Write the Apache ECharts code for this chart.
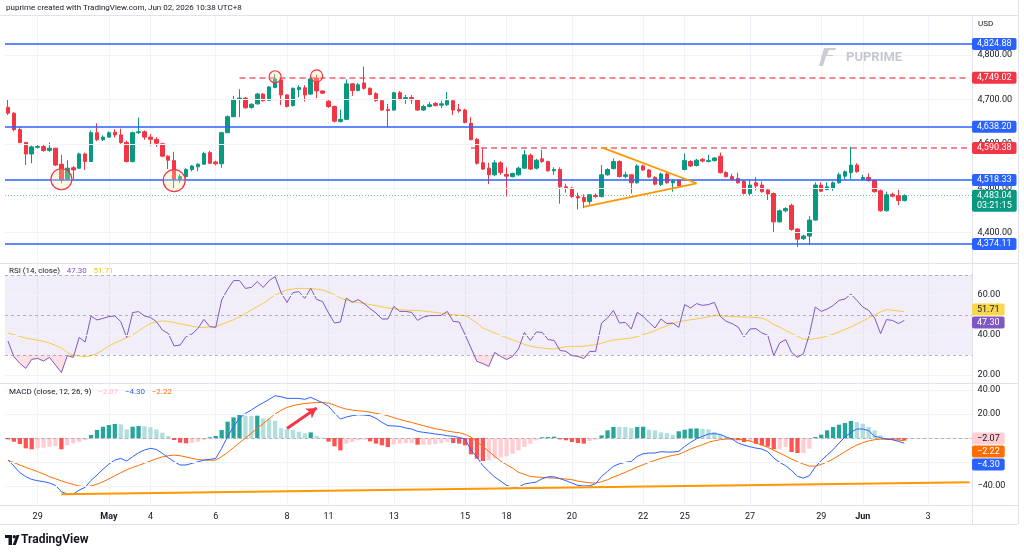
<!DOCTYPE html>
<html><head><meta charset="utf-8">
<script src="https://cdn.jsdelivr.net/npm/echarts@6/dist/echarts.min.js"></script>
<style>html,body{margin:0;padding:0;background:#fff;}#c{width:1024px;height:558px;}</style>
</head><body><div id="c"></div>
<script>
// ---- time axis: one entry per trading day, with number of 4H bars ----
const dayLabels = ['28','29','30','May','4','5','6','7','8','11','12','13','14','15','18','19','20','21','22','25','26','27','28','29','Jun','2','3'];
const dayBars   = [5,6,6,7,5,6,6,6,7,5,6,6,6,7,5,6,6,6,7,5,6,6,6,7,5,6,8];
const shownDays = ['29','May','4','6','8','11','13','15','18','20','22','25','27','Jun','3'];
const monthLabels = ['May','Jun'];

// ---- candles [open, high, low, close] ----
const ohlc = [
[4682,4700,4665,4669],[4669,4671,4628,4632],[4632,4638,4601,4603],[4603,4604,4552,4577],[4577,4596,4556,4593],
[4592,4597,4589,4594],[4594,4599,4582,4585],[4585,4603,4582,4590],[4590,4591,4550,4552],[4554,4575,4511,4518],
[4519,4563,4517,4545],[4546,4550,4520,4541],[4545,4580,4543,4577],[4577,4580,4541,4560],[4560,4630,4559,4625],
[4625,4646,4606,4609],[4609,4619,4606,4615],[4615,4628,4613,4625],[4626,4633,4614,4620],[4620,4634,4600,4603],
[4603,4607,4558,4560],[4560,4627,4558,4625],[4625,4659,4622,4627],[4627,4630,4609,4615],[4615,4622,4596,4610],
[4610,4615,4593,4601],[4600,4602,4570,4572],[4572,4574,4543,4563],[4562,4582,4500,4520],[4520,4531,4512,4526],
[4526,4545,4519,4542],[4542,4552,4538,4550],[4548,4556,4538,4554],[4554,4582,4553,4578],[4580,4584,4555,4556],
[4559,4562,4551,4555],[4555,4627,4546,4625],[4625,4664,4624,4661],[4661,4708,4660,4700],[4700,4723,4660,4703],
[4703,4705,4679,4681],[4682,4691,4679,4689],[4690,4715,4688,4712],[4712,4714,4695,4697],[4698,4730,4697,4728],
[4727,4757,4725,4746],[4744,4748,4687,4710],[4710,4712,4682,4684],[4686,4727,4684,4725],[4722,4732,4705,4727],
[4726,4732,4695,4710],[4712,4755,4710,4746],[4748,4755,4703,4719],[4719,4720,4712,4714],[4696,4700,4681,4684],
[4684,4686,4648,4651],[4650,4677,4648,4655],[4655,4745,4654,4735],[4735,4737,4708,4720],[4720,4737,4718,4733],
[4737,4774,4722,4725],[4725,4727,4709,4711],[4713,4716,4695,4697],[4697,4699,4674,4676],[4677,4690,4637,4675],
[4676,4717,4674,4715],[4715,4719,4698,4700],[4700,4710,4690,4704],[4704,4710,4690,4699],[4699,4701,4674,4676],
[4676,4688,4674,4684],[4684,4694,4682,4688],[4691,4694,4684,4686],[4687,4697,4680,4690],[4688,4717,4685,4697],
[4697,4700,4665,4676],[4677,4690,4670,4674],[4676,4679,4646,4648],[4646,4660,4608,4609],[4610,4613,4553,4556],
[4557,4590,4541,4543],[4545,4557,4509,4530],[4530,4563,4527,4557],[4557,4561,4530,4535],[4531,4547,4481,4527],
[4526,4535,4524,4533],[4530,4548,4528,4545],[4545,4586,4543,4575],[4574,4578,4541,4543],[4545,4566,4542,4563],
[4566,4586,4557,4560],[4560,4562,4537,4539],[4539,4547,4530,4542],[4542,4547,4465,4503],[4503,4510,4490,4500],
[4500,4503,4478,4481],[4481,4490,4452,4478],[4479,4486,4455,4470],[4470,4487,4463,4485],[4484,4488,4478,4481],
[4481,4552,4479,4530],[4530,4545,4528,4542],[4544,4567,4542,4560],[4560,4563,4524,4526],[4526,4537,4522,4530],
[4530,4532,4488,4512],[4512,4554,4510,4550],[4550,4553,4539,4541],[4541,4543,4523,4525],[4524,4527,4506,4509],
[4508,4535,4505,4532],[4532,4535,4510,4512],[4512,4520,4492,4516],[4517,4519,4503,4505],[4542,4578,4540,4562],
[4560,4563,4548,4550],[4551,4566,4549,4563],[4565,4568,4558,4561],[4560,4575,4558,4562],[4562,4570,4560,4568],
[4572,4580,4533,4535],[4535,4538,4524,4526],[4526,4532,4517,4520],[4522,4535,4510,4512],[4515,4518,4486,4488],
[4488,4518,4483,4507],[4512,4525,4495,4505],[4507,4515,4490,4492],[4496,4499,4473,4487],[4488,4490,4400,4424],
[4424,4452,4422,4449],[4449,4457,4446,4454],[4461,4465,4404,4407],[4408,4410,4367,4385],[4386,4395,4383,4392],
[4392,4437,4372,4428],[4428,4513,4427,4507],[4507,4513,4491,4493],[4497,4513,4495,4503],[4500,4515,4494,4512],
[4512,4535,4510,4530],[4527,4540,4520,4537],[4535,4593,4520,4552],[4552,4556,4535,4537],[4520,4530,4517,4524],
[4524,4533,4515,4517],[4517,4519,4490,4492],[4494,4497,4447,4449],[4449,4492,4447,4485],[4486,4490,4479,4482],
[4483,4496,4462,4472],[4472,4486,4470,4483.04]
];
const countdown = '03:21:15';

// ---- RSI (14) and its MA ----
const rsi = [
37.0,29.2,25.8,23.3,27.8,28.3,27.0,28.8,25.0,21.2, 29.7,28.8,38.8,36.5,49.5,47.5,48.3,49.2,49.5,46.7,
38.8,51.2,51.7,49.5,48.8,46.7,42.5,40.8,34.5,35.0, 39.2,40.5,43.3,47.8,44.2,43.8,57.5,62.8,67.2,67.2,
63.3,63.8,66.7,63.8,67.2,69.2,61.2,56.3,61.2,61.7, 58.3,63.3,57.8,56.7,51.0,46.0,46.5,58.5,56.3,57.7,
55.7,53.2,51.0,48.0,48.0,54.3,51.8,51.8,51.3,47.3, 49.0,49.7,49.7,49.8,51.8,46.8,46.5,40.2,33.5,26.8,
25.7,24.3,31.3,29.3,27.7,29.3,33.0,41.3,37.3,41.5, 41.3,37.7,37.3,32.3,31.8,29.7,29.3,28.2,31.8,31.8,
46.0,48.5,52.3,46.0,46.3,43.0,51.3,49.3,46.3,43.5, 48.0,45.7,46.0,43.8,55.2,53.5,55.7,54.8,55.2,56.3,
49.3,46.8,45.7,44.0,39.0,43.0,43.2,41.0,39.8,29.7, 36.0,37.7,31.3,28.8,30.7,40.2,54.0,51.8,53.0,54.7,
57.3,58.0,60.5,57.3,54.0,52.3,48.5,40.7,47.7,47.3,45.7,47.30
];
const rsiMa = [
40.8,40.2,39.3,38.5,37.9,37.4,36.8,36.0,34.8,33.5, 31.2,30.0,29.5,29.2,29.6,30.8,32.5,34.5,36.0,37.3,
38.7,40.0,42.0,44.0,45.8,46.5,47.0,46.8,46.2,45.6, 45.0,44.4,43.8,43.8,44.0,44.2,45.3,46.5,47.6,49.0,
50.8,52.5,54.2,55.8,58.0,60.0,61.3,62.5,63.0,63.3, 63.3,63.2,62.9,62.5,61.5,60.2,58.5,57.4,56.8,56.2,
55.7,55.2,54.7,54.1,53.5,53.1,52.7,52.4,52.3,52.3, 52.0,51.6,51.3,50.9,50.5,50.2,49.9,49.7,48.0,46.0,
43.5,42.3,41.0,39.8,38.7,37.6,36.5,35.3,34.5,33.8, 33.5,33.2,33.0,33.5,34.2,34.3,34.3,34.4,34.8,35.2,
35.8,36.8,37.5,37.8,38.2,38.5,39.2,40.2,41.1,42.2, 43.5,44.6,45.6,46.7,47.2,47.6,48.0,48.5,49.1,49.7,
49.6,49.4,49.2,49.1,49.0,48.9,48.7,48.5,47.2,45.2, 44.0,42.3,40.8,39.4,38.0,37.7,38.2,38.7,39.5,40.4,
41.5,42.8,44.0,45.4,47.0,48.5,50.0,51.5,52.7,52.4,52.0,51.71
];

// ---- MACD (12, 26, 9) ----
const macd = [
-18.4,-23.4,-28.9,-32.2,-34.5,-35.6,-36.4,-37.5,-39.5,-44.8, -46.7,-46.7,-43.4,-41.1,-35.3,-30.9,-26.1,-21.7,-18.4,-17.0,
-19.2,-15.6,-12.3,-10.0,-8.6,-9.5,-12.8,-16.4,-19.8,-22.5, -22.5,-21.1,-19.8,-18.4,-17.8,-17.0,-8.6,1.1,9.4,16.4,
20.5,23.3,26.6,29.4,32.2,35.2,34.4,33.0,33.0,33.0, 32.2,33.9,31.6,29.4,26.4,20.8,15.8,17.5,18.6,19.4,
19.1,18.6,16.4,13.0,10.3,10.0,9.7,8.3,7.5,5.5, 4.7,4.1,3.3,2.8,1.9,1.4,0.5,-0.9,-10.0,-16.0,
-23.0,-28.0,-32.5,-36.0,-39.5,-41.0,-40.9,-38.4,-37.5,-36.7, -33.9,-32.3,-32.3,-33.9,-35.6,-37.5,-39.5,-40.0,-39.8,-38.1,
-32.0,-27.8,-23.6,-21.4,-20.3,-19.5,-15.3,-13.1,-12.5,-12.5, -11.4,-11.7,-11.7,-11.1,-7.0,-3.6,-0.6,1.4,3.3,3.6,
3.0,0.8,-0.9,-4.2,-5.9,-7.3,-8.4,-9.2,-11.4,-16.7, -20.3,-23.1,-27.0,-32.0,-33.4,-31.4,-24.2,-18.7,-14.2,-9.8,
-4.2,0.8,4.7,7.5,7.5,6.1,1.4,0.3,-0.9,-1.4,-2.8,-4.30
];
const signal = [
-18.5,-20.5,-22.5,-24.5,-26.2,-28.0,-30.0,-32.2,-34.0,-35.7, -37.3,-38.7,-40.0,-40.6,-40.0,-38.5,-36.5,-34.0,-31.5,-29.0,
-26.5,-24.5,-22.8,-21.0,-19.2,-17.2,-15.8,-14.7,-14.3,-14.8, -15.8,-17.0,-18.0,-18.4,-18.5,-18.4,-15.5,-12.0,-8.0,-4.0,
0.0,4.0,8.0,12.0,16.0,20.0,23.0,25.5,27.0,28.0, 28.7,29.2,29.6,29.6,29.1,27.5,25.5,24.1,23.3,22.7,
22.2,21.6,20.5,19.7,18.6,16.9,15.5,14.1,13.0,11.6, 10.3,8.9,7.7,6.9,5.8,5.0,4.4,3.0,0.8,-3.1,
-7.0,-11.1,-15.3,-19.2,-22.3,-25.0,-28.6,-30.3,-32.0,-32.5, -32.8,-33.1,-33.4,-33.7,-34.2,-34.8,-35.9,-36.7,-37.3,-37.5,
-36.4,-34.8,-32.5,-30.6,-28.6,-26.4,-24.2,-22.3,-20.3,-18.6, -17.0,-15.6,-14.5,-13.6,-11.4,-9.2,-7.3,-5.6,-3.6,-2.3,
-1.4,-0.9,-0.9,-0.9,-1.7,-2.5,-4.2,-5.9,-7.8,-10.3, -12.5,-15.0,-17.5,-19.8,-21.7,-23.4,-23.4,-22.0,-20.0,-17.5,
-14.5,-11.4,-8.4,-5.9,-3.9,-2.4,-1.4,-1.0,-1.1,-1.4,-1.8,-2.22
];
const hist = [
-1.1,-3.1,-5.0,-8.6,-9.4,-8.6,-8.1,-7.2,-6.7,-9.4, -6.1,-4.4,-3.3,-1.7,2.5,6.7,9.4,10.8,11.7,11.4,
7.2,9.4,10.0,9.8,8.9,7.2,4.4,1.7,-1.7,-3.9, -4.4,-3.9,-3.1,-1.7,0.6,1.7,6.7,13.6,17.2,19.7,
18.6,18.3,18.6,16.4,15.6,14.4,8.1,7.2,6.7,5.3, 3.9,4.7,1.7,0.3,-3.0,-6.9,-10.3,-4.7,-3.3,-1.9,
-1.4,-2.8,-4.7,-6.1,-7.5,-5.3,-4.7,-4.2,-4.2,-5.6, -5.6,-5.6,-5.0,-4.2,-3.3,-4.2,-4.7,-6.1,-13.6,-17.2,
-19.2,-18.6,-17.2,-16.4,-15.3,-13.1,-10.3,-7.5,-4.7,-1.9, 0.6,0.8,1.1,-1.1,-1.9,-3.3,-4.2,-4.7,-2.5,-1.4,
2.2,6.4,9.2,9.2,9.2,8.3,9.2,9.4,6.9,6.4, 4.7,4.2,2.8,5.6,6.9,7.8,8.0,7.8,7.2,5.0,
2.8,0.8,-0.3,-1.9,-3.3,-3.3,-4.7,-6.1,-7.2,-9.4, -9.4,-7.5,-11.7,-12.5,-12.5,-8.9,0.8,2.8,6.4,9.2,
11.1,12.5,14.2,13.3,11.9,9.2,6.4,2.2,-0.6,-1.1,-1.4,-2.07
];

// ---- tick labels ----
const priceTicks = [4400,4500,4600,4700,4800];
const rsiTicks = [20,40,60];
const rsiLevels = [30,50,70];
const macdTicks = [-40,20,40];
const macdGrid = [-40,-20,20,40];

// ---- drawings ----
const supportLines = [4824.88,4638.20,4518.33,4374.11];
const dashedLevels = [[39,4749.02],[78,4590.38]];   // [start bar, price]
const wedgeUpper = [[100,4592],[116,4511]];
const wedgeLower = [[97,4458],[116,4511]];
const circles = [[9,4520,21],[28,4517,22],[45,4751,12],[52,4753,12]];  // [bar, price, size]
const macdTrend = [[9,-46.9],[162,-36.8]];
const macdArrow = [[47,8],[52,25]];

// ---------------------------------------------------------------
const cats = [];
dayLabels.forEach((d,k)=>{ for(let j=0;j<dayBars[k];j++) cats.push(d+'|'+k+'|'+j); });
const isLbl = i => { const p = String(cats[i]).split('|'); return p[2]==='0' && p[1]!=='0' && shownDays.includes(p[0]); };
const FONT = 'Roboto, "Noto Sans", sans-serif';
const fmt = v => { const s = Math.abs(v).toFixed(2).split('.'); return (v<0?'\u2212':'') + s[0].replace(/\B(?=(\d{3})+$)/g, ',') + '.' + s[1]; };

const chart = echarts.init(document.getElementById('c'), null, {renderer:'canvas'});
const gridL = 5, gridR = 51.4;
const grids = [
  {left:gridL, right:gridR, top:15, height:248},
  {left:gridL, right:gridR, top:263, height:120},
  {left:gridL, right:gridR, top:383, height:122}
];
const vSplit = {show:true, alignWithLabel:true, interval:(i)=>isLbl(i), lineStyle:{color:'#f0f3fa', width:1}};
const xAxes = [0,1,2].map(g=>({
  type:'category', gridIndex:g, data:cats, boundaryGap:true,
  axisLine:{show:true, lineStyle:{color:'#e0e3eb'}}, axisTick:{show:false},
  axisLabel: g===2 ? {show:true, interval:(i)=>isLbl(i),
      formatter:(v)=>{ const d = String(v).split('|')[0]; return monthLabels.includes(d) ? '{m|'+d+'}' : d; },
      rich:{m:{fontWeight:'bold', fontSize:9, color:'#131722', fontFamily:FONT}},
      color:'#131722', fontSize:9, fontFamily:FONT, margin:7} : {show:false},
  splitLine: vSplit, axisPointer:{show:false}
}));
const yLab = (vals, f) => ({show:true, customValues:vals, formatter:f, color:'#131722', fontSize:9, fontFamily:FONT, margin:5});
const yAxes = [
  {type:'value', gridIndex:0, position:'right', min:4331.3, max:4890.2, axisLine:{show:false}, axisTick:{show:false}, splitLine:{show:false}, axisLabel:yLab(priceTicks, v=>fmt(v))},
  {type:'value', gridIndex:1, position:'right', min:16, max:76, axisLine:{show:false}, axisTick:{show:false}, splitLine:{show:false}, axisLabel:yLab(rsiTicks, v=>fmt(v))},
  {type:'value', gridIndex:2, position:'right', min:-55.83, max:45.83, axisLine:{show:false}, axisTick:{show:false}, splitLine:{show:false}, axisLabel:yLab(macdTicks, v=>fmt(v))}
];
const gridLines = (vals) => ({silent:true, symbol:['none','none'], label:{show:false}, animation:false,
  data: vals.map(v=>({yAxis:v, lineStyle:{color:'#f0f3fa', width:1, type:'solid'}}))});

const UP='#089981', DN='#f23645';
const lastClose = ohlc[ohlc.length-1][3];
const candleData = ohlc.map(([o,h,l,c])=>[o,c,l,h]);
const histData = hist.map((h,i)=>{
  const p = i>0 ? hist[i-1] : 0;
  let col;
  if (h>=0) col = (h>p) ? '#26a69a' : '#b2dfdb';
  else col = (h<p) ? '#ff5252' : '#ffcdd2';
  return {value:h, itemStyle:{color:col}};
});
const rsiLow = rsi.map(v=>Math.min(v,30));
const rsiFill = rsi.map(v=>30-Math.min(v,30));

const series = [
  {type:'line', xAxisIndex:0, yAxisIndex:0, data:[], z:1, markLine:gridLines(priceTicks)},
  {type:'candlestick', xAxisIndex:0, yAxisIndex:0, data:candleData, barWidth:4, z:3,
   itemStyle:{color:UP, color0:DN, borderColor:UP, borderColor0:DN, borderWidth:1},
   markLine:{silent:true, symbol:['none','none'], label:{show:false}, animation:false, data:[
     ...supportLines.map(v=>({yAxis:v, lineStyle:{color:'#2962ff', width:1.6, type:'solid'}})),
     ...dashedLevels.map(([i,v])=>[{coord:[i,v], lineStyle:{color:'rgba(242,54,69,0.6)', width:2, type:[6,4]}},{coord:[162,v]}]),
     {yAxis:lastClose, lineStyle:{color:'rgba(8,153,129,0.6)', width:1, type:[1,2]}},
     [{coord:wedgeUpper[0], lineStyle:{color:'#ff9800', width:1.8, type:'solid'}},{coord:wedgeUpper[1]}],
     [{coord:wedgeLower[0], lineStyle:{color:'#ff9800', width:1.8, type:'solid'}},{coord:wedgeLower[1]}]
   ]},
   markPoint:{silent:true, animation:false, symbol:'circle', label:{show:false},
     itemStyle:{color:'rgba(255,236,170,0.3)', borderColor:'#f23645', borderWidth:1.2},
     data: circles.map(([i,p,s])=>({coord:[i,p], symbolSize:s}))}
  },
  // RSI
  {type:'line', xAxisIndex:1, yAxisIndex:1, data:[], z:1, markLine:gridLines(rsiTicks)},
  {type:'line', xAxisIndex:1, yAxisIndex:1, data:rsiLow, stack:'os', showSymbol:false, lineStyle:{opacity:0}, z:2, silent:true},
  {type:'line', xAxisIndex:1, yAxisIndex:1, data:rsiFill, stack:'os', showSymbol:false, lineStyle:{opacity:0}, areaStyle:{color:'rgba(242,54,69,0.22)'}, z:2, silent:true},
  {type:'line', xAxisIndex:1, yAxisIndex:1, data:rsiMa, showSymbol:false, lineStyle:{color:'#f7c948', width:1}, z:3},
  {type:'line', xAxisIndex:1, yAxisIndex:1, data:rsi, showSymbol:false, lineStyle:{color:'#7e57c2', width:1}, z:4,
   markArea:{silent:true, itemStyle:{color:'rgba(126,87,194,0.1)'}, data:[[{yAxis:rsiLevels[0]},{yAxis:rsiLevels[2]}]]},
   markLine:{silent:true, symbol:['none','none'], label:{show:false}, animation:false,
     data: rsiLevels.map(v=>({yAxis:v, lineStyle:{color:'rgba(120,123,134,0.55)', width:1, type:[3,3]}}))}
  },
  // MACD
  {type:'line', xAxisIndex:2, yAxisIndex:2, data:[], z:1, markLine:{...gridLines(macdGrid), data:[
     ...macdGrid.map(v=>({yAxis:v, lineStyle:{color:'#f0f3fa', width:1, type:'solid'}})),
     {yAxis:0, lineStyle:{color:'rgba(120,123,134,0.45)', width:1, type:[3,3]}}]}},
  {type:'bar', xAxisIndex:2, yAxisIndex:2, data:histData, barWidth:'72%', z:2},
  {type:'line', xAxisIndex:2, yAxisIndex:2, data:macd, showSymbol:false, lineStyle:{color:'#2962ff', width:1}, z:4},
  {type:'line', xAxisIndex:2, yAxisIndex:2, data:signal, showSymbol:false, lineStyle:{color:'#ff6d00', width:1}, z:3,
   markLine:{silent:true, label:{show:false}, animation:false, data:[
     [{coord:macdTrend[0], symbol:'none', lineStyle:{color:'#ff9800', width:2, type:'solid'}},{coord:macdTrend[1], symbol:'none'}],
     [{coord:macdArrow[0], symbol:'none', lineStyle:{color:'#f23645', width:3, type:'solid'}},{coord:macdArrow[1], symbol:'arrow', symbolSize:[9,10]}]
   ]}
  }
];

chart.setOption({
  animation:false,
  textStyle:{fontFamily:FONT},
  grid:grids, xAxis:xAxes, yAxis:yAxes, series
});

// ---- price-scale badges and static text ----
const T = (x,y,text,o={}) => ({type:'text', x, y, silent:true, z:100, style:Object.assign({text, fill:'#131722', font:'9px '+FONT, align:'left', textAlign:'left', verticalAlign:'middle', textVerticalAlign:'middle'}, o)});
const badge = (y, text, bg, fg, h=12) => ({type:'text', x:972, y:y, silent:true, z:110,
  style:{text, fill:fg, font:'9px '+FONT, align:'left', textAlign:'left', verticalAlign:'top', textVerticalAlign:'top',
    backgroundColor:bg, padding:[1,5,1,5], lineHeight:h-2, borderRadius:2}});
function stackBadges(items, h) {
  items.sort((a,b)=>a.y-b.y);
  let prev = -1e9;
  items.forEach(it=>{ let top = it.y - h/2; if (top < prev+1) top = prev+1; it.top = top; prev = top + h; });
  return items;
}
const px = (axis, v) => chart.convertToPixel({yAxisIndex:axis}, v);
const H = 12;
const g = [];
// main
const mainB = [
  ...supportLines.map(v=>({y:px(0,v), t:fmt(v), bg:'#2962ff', fg:'#fff'})),
  ...dashedLevels.map(([i,v])=>({y:px(0,v), t:fmt(v), bg:'#f23645', fg:'#fff'}))
];
stackBadges(mainB, H).forEach(b=>g.push(badge(b.top, b.t, b.bg, b.fg)));
const yc = px(0,lastClose);
g.push(badge(yc-6, fmt(lastClose)+'\n'+countdown, '#089981', '#fff', 12));
// RSI
stackBadges([
  {y:px(1,rsiMa[rsiMa.length-1]), t:fmt(rsiMa[rsiMa.length-1]), bg:'#f9d74c', fg:'#131722'},
  {y:px(1,rsi[rsi.length-1]), t:fmt(rsi[rsi.length-1]), bg:'#7e57c2', fg:'#fff'}
], H).forEach(b=>g.push(badge(b.top-2, b.t, b.bg, b.fg)));
// MACD
stackBadges([
  {y:px(2,hist[hist.length-1])-0.01, t:fmt(hist[hist.length-1]), bg:'#ffcdd2', fg:'#131722'},
  {y:px(2,signal[signal.length-1]), t:fmt(signal[signal.length-1]), bg:'#ff6d00', fg:'#fff'},
  {y:px(2,macd[macd.length-1]), t:fmt(macd[macd.length-1]), bg:'#2962ff', fg:'#fff'}
], H).forEach(b=>g.push(badge(b.top-2, b.t, b.bg, b.fg)));

// frame lines
const LN = (x1,y1,x2,y2,c='#e0e3eb') => ({type:'line', silent:true, z:50, shape:{x1,y1,x2,y2}, style:{stroke:c, lineWidth:1}});
g.push(LN(0,15.5,1018,15.5), LN(0,263.5,1018,263.5), LN(0,383.5,1018,383.5), LN(0,505.5,1018,505.5), LN(0,524.5,1018,524.5));
g.push(LN(972.5,15,972.5,524), LN(1018.5,0,1018.5,524));
// texts
g.push(T(6,8,'puprime created with TradingView.com, Jun 02, 2026 10:38 UTC+8', {font:'8px '+FONT}));
g.push(T(978,24,'USD', {font:'8px '+FONT}));
g.push({type:'text', x:9, y:271, silent:true, z:100, style:{
  text:'{a|RSI (14, close)}  {p|'+fmt(rsi[rsi.length-1])+'}  {y|'+fmt(rsiMa[rsiMa.length-1])+'}',
  verticalAlign:'middle', textVerticalAlign:'middle',
  rich:{a:{fill:'#131722', font:'8px '+FONT}, p:{fill:'#7e57c2', font:'8px '+FONT}, y:{fill:'#f5c518', font:'8px '+FONT}}}});
g.push({type:'text', x:9, y:392, silent:true, z:100, style:{
  text:'{a|MACD (close, 12, 26, 9)}  {h|'+fmt(hist[hist.length-1])+'}  {b|'+fmt(macd[macd.length-1])+'}  {o|'+fmt(signal[signal.length-1])+'}',
  verticalAlign:'middle', textVerticalAlign:'middle',
  rich:{a:{fill:'#131722', font:'8px '+FONT}, h:{fill:'#ffbcc4', font:'8px '+FONT}, b:{fill:'#2962ff', font:'8px '+FONT}, o:{fill:'#ff6d00', font:'8px '+FONT}}}});
// PUPRIME watermark
g.push({type:'polygon', silent:true, z:5, shape:{points:[[824,48],[836,48],[833,56],[826,56],[823,66],[819,66]]}, style:{fill:'#c9ccd4'}});
g.push({type:'polygon', silent:true, z:5, shape:{points:[[829,50],[837,50],[835,55],[827,55]]}, style:{fill:'#fff'}});
g.push(T(846,58,'PUPRIME', {font:'bold 13px '+FONT, fill:'#c5c8d0'}));
// TradingView logo
g.push({type:'rect', silent:true, z:100, shape:{x:5,y:535,width:7,height:3}, style:{fill:'#131722'}});
g.push({type:'rect', silent:true, z:100, shape:{x:8.5,y:535,width:3.5,height:10}, style:{fill:'#131722'}});
g.push({type:'circle', silent:true, z:100, shape:{cx:14.3,cy:536.7,r:1.7}, style:{fill:'#131722'}});
g.push({type:'polygon', silent:true, z:100, shape:{points:[[16.5,535],[19.5,535],[15.8,545],[12.6,545]]}, style:{fill:'#131722'}});
g.push(T(21,540,'TradingView', {font:'bold 12px '+FONT}));

chart.setOption({graphic:g});
</script>
</body></html>
